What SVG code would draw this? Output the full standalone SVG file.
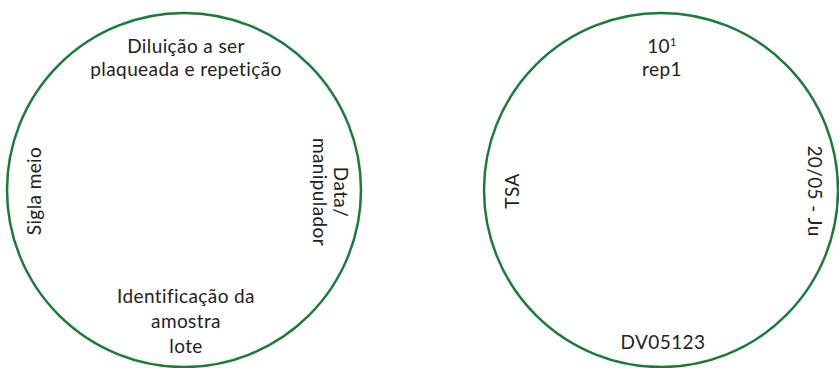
<svg xmlns="http://www.w3.org/2000/svg" width="839" height="368" viewBox="0 0 839 368">
<style>
.plate{fill:none;stroke:#1a7c38;stroke-width:2.5}
text{font-family:Lato,"Noto Sans",sans-serif;font-size:19px;letter-spacing:0.4px;fill:#222;text-anchor:middle}
</style>
<rect width="839" height="368" fill="#fff"/>
<g id="plate-template">
<circle class="plate" cx="184" cy="190" r="177"/>
<text x="186" y="52.5">Diluição a ser</text>
<text x="186" y="75.5">plaqueada e repetição</text>
<text transform="translate(41,191) rotate(-90)">Sigla meio</text>
<text transform="translate(334,192) rotate(90)">Data/</text>
<text transform="translate(313,192) rotate(90)">manipulador</text>
<text x="186" y="303">Identificação da</text>
<text x="186" y="328">amostra</text>
<text x="186" y="353">lote</text>
</g>
<g id="plate-example">
<circle class="plate" cx="661" cy="190" r="177"/>
<text x="662" y="53">10<tspan font-size="11" dy="-7">1</tspan></text>
<text x="662" y="76">rep1</text>
<text transform="translate(519,191) rotate(-90)">TSA</text>
<text transform="translate(808,191) rotate(90)">20/05 - Ju</text>
<text x="663" y="349">DV05123</text>
</g>
<g id="connectors"></g>
</svg>
